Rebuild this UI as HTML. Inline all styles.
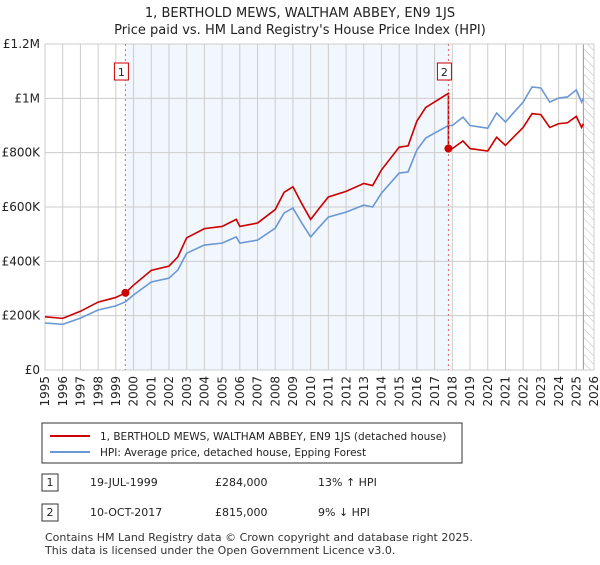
<!DOCTYPE html>
<html><head><meta charset="utf-8"><style>
body{margin:0;background:#fff;font-family:"Liberation Sans","DejaVu Sans",sans-serif;}
svg text{font-family:"DejaVu Sans","Liberation Sans",sans-serif;}
</style></head><body>
<svg id="c" width="600" height="560" viewBox="0 0 600 560" xmlns="http://www.w3.org/2000/svg">
<defs><pattern id="hatch" width="6" height="6" patternUnits="userSpaceOnUse" patternTransform="rotate(-45)"><line x1="0" y1="0" x2="0" y2="6" stroke="#bbb" stroke-width="1"/></pattern></defs>
<text x="300" y="17" text-anchor="middle" font-size="13" fill="#222">1, BERTHOLD MEWS, WALTHAM ABBEY, EN9 1JS</text>
<text x="300" y="34" text-anchor="middle" font-size="13" fill="#222">Price paid vs. HM Land Registry's House Price Index (HPI)</text>
<g id="plot"></g>
<rect x="42" y="423" width="420" height="40" fill="#fff" stroke="#333"/>
<line x1="50" y1="436" x2="90" y2="436" stroke="#cc0000" stroke-width="2"/>
<text x="100" y="440" font-size="10.5" fill="#222">1, BERTHOLD MEWS, WALTHAM ABBEY, EN9 1JS (detached house)</text>
<line x1="50" y1="452" x2="90" y2="452" stroke="#6a98d4" stroke-width="2"/>
<text x="100" y="456" font-size="10.5" fill="#222">HPI: Average price, detached house, Epping Forest</text>
<g font-size="11" fill="#222">
<rect x="42" y="474" width="16" height="17" fill="#fff" stroke="#333"/>
<text x="50" y="486" text-anchor="middle">1</text>
<text x="90" y="486">19-JUL-1999</text>
<text x="215" y="486">£284,000</text>
<text x="318" y="486">13% ↑ HPI</text>
<rect x="42" y="504" width="16" height="17" fill="#fff" stroke="#333"/>
<text x="50" y="516" text-anchor="middle">2</text>
<text x="90" y="516">10-OCT-2017</text>
<text x="215" y="516">£815,000</text>
<text x="318" y="516">9% ↓ HPI</text>
</g>
<text x="45" y="541" font-size="11" fill="#333">Contains HM Land Registry data © Crown copyright and database right 2025.</text>
<text x="45" y="554" font-size="11" fill="#333">This data is licensed under the Open Government Licence v3.0.</text>
</svg>
<script>
const hpiYears=[1995,1996,1997,1998,1999,1999.54,2000,2001,2002,2002.5,2003,2004,2005,2005.8,2006,2007,2008,2008.5,2009,2009.5,2010,2010.5,2011,2012,2013,2013.5,2014,2015,2015.5,2016,2016.5,2017,2017.78,2018,2018.6,2019,2020,2020.5,2021,2021.5,2022,2022.5,2023,2023.5,2024,2024.5,2025,2025.3,2025.4];
const hpiValues=[173,168,191,221,236,251,276,324,338,368,430,460,467,490,467,478,522,578,596,541,490,527,563,581,607,600,651,725,729,810,854,872,900,900,931,900,890,946,913,950,986,1042,1038,986,1001,1005,1031,986,1001];
const saleYears=[1999.54,2017.78];
const salePrices=[284,815];
const saleLabels=["1","2"];
const yTicks=[0,200,400,600,800,1000,1200];
const yTickLabels=["£0","£200K","£400K","£600K","£800K","£1M","£1.2M"];
const xTicks=[1995,1996,1997,1998,1999,2000,2001,2002,2003,2004,2005,2006,2007,2008,2009,2010,2011,2012,2013,2014,2015,2016,2017,2018,2019,2020,2021,2022,2023,2024,2025,2026];
const L=45,R=594,T=44,B=370,X0=1995,X1=2026,YMAX=1200,HATCH=2025.4;
const X=v=>L+(v-X0)/(X1-X0)*(R-L);
const Y=v=>B-v/YMAX*(B-T);
const g=document.getElementById('plot');
const NS='http://www.w3.org/2000/svg';
function mk(t,a){const e=document.createElementNS(NS,t);for(const k in a)e.setAttribute(k,a[k]);g.appendChild(e);return e;}
let e;
e=mk('rect',{x:X(saleYears[0]),y:T,width:X(saleYears[1])-X(saleYears[0]),height:B-T,fill:'#f2f6fd'});


e=mk('rect',{x:X(HATCH),y:T,width:R-X(HATCH),height:B-T,fill:'url(#hatch)'});


yTicks.forEach((v,i)=>{
 e=mk('line',{x1:L,x2:R,y1:Y(v),y2:Y(v),stroke:'#ccc'});
 
 
 e=mk('text',{x:L-5,y:Y(v)+4,'text-anchor':'end','font-size':12,fill:'#222'});
 e.textContent=yTickLabels[i];
 
 
});
xTicks.forEach(v=>{
 e=mk('line',{x1:X(v),x2:X(v),y1:T,y2:B,stroke:'#ccc'});
 
 
 e=mk('text',{x:X(v),y:B+6,'text-anchor':'end','font-size':12,fill:'#222',transform:`rotate(-90 ${X(v)} ${B+6})`,dy:'0.35em'});
 e.textContent=v;
 
 
});
e=mk('line',{x1:X(HATCH),x2:X(HATCH),y1:T,y2:B,stroke:'#999'});


e=mk('rect',{x:L,y:T,width:R-L,height:B-T,fill:'none',stroke:'#ccc'});


function hpiAt(t){for(let i=0;i<hpiYears.length-1;i++){if(t>=hpiYears[i]&&t<=hpiYears[i+1]){const f=(t-hpiYears[i])/(hpiYears[i+1]-hpiYears[i]);return hpiValues[i]+f*(hpiValues[i+1]-hpiValues[i]);}}return hpiValues[hpiValues.length-1];}
const bp=hpiYears.map((t,i)=>X(t)+','+Y(hpiValues[i])).join(' ');
e=mk('polyline',{points:bp,fill:'none',stroke:'#6a98d4','stroke-width':1.6});


const r0=salePrices[0]/hpiAt(saleYears[0]),r1=salePrices[1]/hpiAt(saleYears[1]);
let rp=[];
hpiYears.forEach((t,i)=>{if(t<=saleYears[1])rp.push(X(t)+','+Y(hpiValues[i]*r0));});
rp.push(X(saleYears[1])+','+Y(hpiAt(saleYears[1])*r0));
rp.push(X(saleYears[1])+','+Y(salePrices[1]));
hpiYears.forEach((t,i)=>{if(t>saleYears[1])rp.push(X(t)+','+Y(hpiValues[i]*r1));});
e=mk('polyline',{points:rp.join(' '),fill:'none',stroke:'#cc0000','stroke-width':1.6});


saleYears.forEach((t,i)=>{
 e=mk('line',{x1:X(t),x2:X(t),y1:T,y2:B,stroke:'#e06666','stroke-dasharray':'2,3'});
 
 
 e=mk('circle',{cx:X(t),cy:Y(salePrices[i]),r:4,fill:'#cc0000'});
 
 
 e=mk('rect',{x:X(t)-11,y:63,width:14,height:17,fill:'#fff',stroke:'#cc0000'});
 
 
 e=mk('text',{x:X(t)-4,y:76,'text-anchor':'middle','font-size':11,fill:'#222'});
 e.textContent=saleLabels[i];
 
 
});
</script>
</body></html>
